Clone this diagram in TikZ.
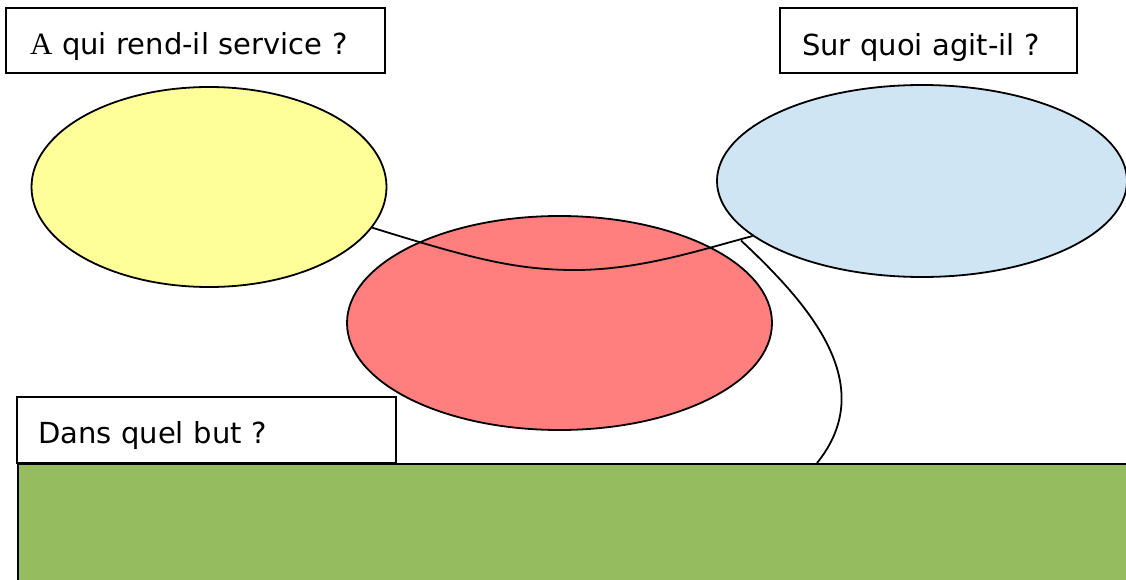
\documentclass[tikz,border=0pt]{standalone}
\usepackage{fontspec}
\setmainfont{DejaVu Sans}
\newfontfamily\serifA{Liberation Serif}
\usetikzlibrary{shapes.geometric}
\definecolor{paleyellow}{HTML}{FFFF99}
\definecolor{paleblue}{HTML}{CFE5F3}
\definecolor{salmon}{HTML}{FF7F7F}
\definecolor{grassgreen}{HTML}{95BD60}
\tikzset{
  qbox/.style={draw, fill=white, line width=1.8pt, rectangle, inner xsep=0pt,
    inner ysep=0pt, text depth=0pt, font=\fontsize{29}{34}\selectfont, align=left},
  blob/.style={draw, ellipse, line width=1.8pt, inner sep=0pt},
  link/.style={draw, line width=1.8pt}
}
\begin{document}
\begin{tikzpicture}[x=1pt,y=-1pt]
\useasboundingbox (0,0) rectangle (1126,580);
\clip (0,0) rectangle (1126,580);
\fill[white] (0,0) rectangle (1126,580);

% question boxes
\node[qbox, text height=29pt, minimum width=379pt, minimum height=65pt, text width=331pt] (who) at (195.5,40.5) {{\serifA\fontsize{31}{34}\selectfont A} qui rend-il service ?};
\node[qbox, text height=31pt, minimum width=297pt, minimum height=65pt, text width=253pt] (what) at (928.5,40.5) {Sur quoi agit-il ?};

% goal band
\node[draw, fill=grassgreen, line width=1.8pt, rectangle, minimum width=1140pt, minimum height=140pt, anchor=north west] (goal) at (17,463) {};

% ellipses
\node[blob, fill=paleyellow, minimum width=355pt, minimum height=200pt] (user) at (209,187) {};
\node[blob, fill=paleblue, minimum width=410pt, minimum height=192pt] (matter) at (922,181) {};
\node[blob, fill=salmon, minimum width=425pt, minimum height=214pt] (product) at (559.5,323) {};

\node[qbox, text height=26pt, minimum width=379pt, minimum height=66pt, text width=337pt] (why) at (206.5,430) {Dans quel but ?};

% connectors
\coordinate (fork) at (741,240.5);
\coordinate (goaltop) at (817,463);
\path[link] (user.-14.5) .. controls (470,258) and (515,270) .. (575,270)
  .. controls (640,270) and (700,250) .. (matter.198);
\path[link] (fork) .. controls (810,305) and (880,385) .. (goaltop);
\end{tikzpicture}
\end{document}
